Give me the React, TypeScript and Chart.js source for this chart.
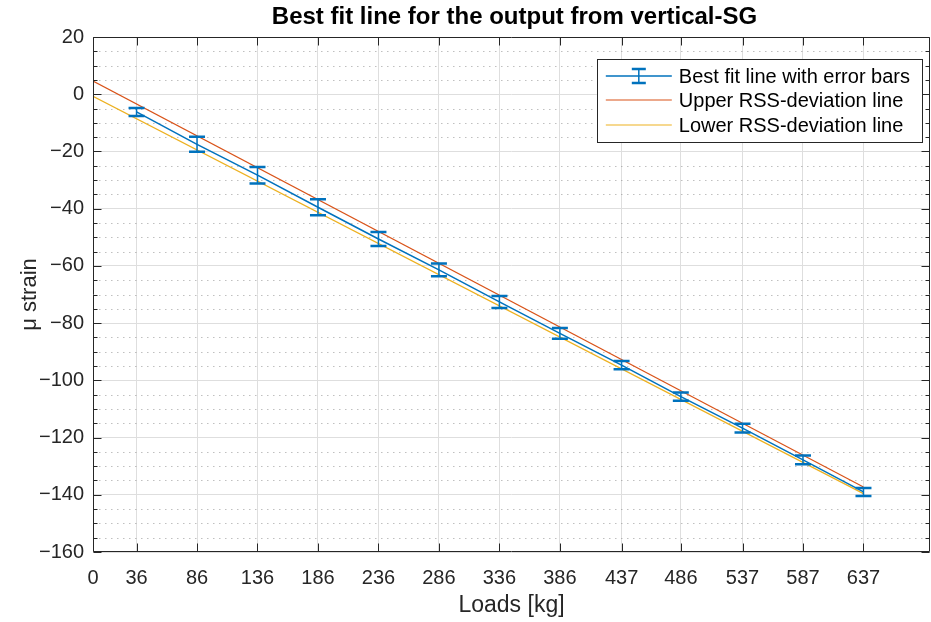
import React, { useEffect, useRef } from "react";
import { Chart, registerables } from "chart.js";

Chart.register(...registerables);

// ---- data ----
const loads = [36, 86, 136, 186, 236, 286, 336, 386, 437, 486, 537, 587, 637];
const bestFit = [-6.2, -17.5, -28.3, -39.5, -50.6, -61.4, -72.6, -83.6, -94.7, -105.7, -116.7, -127.8, -139.0];
const errHalf = [1.4, 2.6, 2.9, 2.8, 2.45, 2.2, 2.1, 1.9, 1.45, 1.45, 1.55, 1.55, 1.4];
const devLoads = [0, 637];
const upperDev = [4.6, -137.3];
const lowerDev = [-0.7, -139.6];
const xTickValues = [0, 36, 86, 136, 186, 236, 286, 336, 386, 437, 486, 537, 587, 637];
const yMin = -160;
const yMax = 20;
const yMajorStep = 20;
const yMinorStep = 5;
const xMax = 692;

const titleText = "Best fit line for the output from vertical-SG";
const xTitle = "Loads [kg]";
const yTitle = "\u03bc strain";
const legendLabels = ["Best fit line with error bars", "Upper RSS-deviation line", "Lower RSS-deviation line"];

const FONT = '"Liberation Sans", Arial, Helvetica, sans-serif';
const BLUE = "#0072BD";
const RED = "#D95319";
const YELLOW = "#EDB120";
const AXIS = "#262626";

const fmtNum = (v: number) => (v < 0 ? "\u2212" + Math.abs(v) : String(v));

const titlePlugin = {
  id: "customTitle",
  afterDraw(chart: any) {
    const { ctx, chartArea: a } = chart;
    ctx.save();
    ctx.font = `bold 24px ${FONT}`;
    ctx.fillStyle = "#000";
    ctx.textAlign = "center";
    ctx.textBaseline = "middle";
    ctx.fillText(titleText, (a.left + a.right) / 2 + 3, 17);
    ctx.restore();
  },
};

const minorGridPlugin = {
  id: "minorGrid",
  beforeDatasetsDraw(chart: any) {
    const { ctx, chartArea: a, scales } = chart;
    const y = scales.y;
    ctx.save();
    ctx.strokeStyle = "rgba(140,140,140,0.55)";
    ctx.lineWidth = 1;
    ctx.setLineDash([1.5, 4.5]);
    for (let v = yMin; v <= yMax; v += yMinorStep) {
      if (v % yMajorStep === 0) continue;
      const py = Math.round(y.getPixelForValue(v)) + 0.5;
      ctx.beginPath();
      ctx.moveTo(a.left, py);
      ctx.lineTo(a.right, py);
      ctx.stroke();
    }
    ctx.restore();
  },
};

const errorBarPlugin = {
  id: "errorBars",
  afterDatasetsDraw(chart: any) {
    const { ctx, scales } = chart;
    const x = scales.x;
    const y = scales.y;
    ctx.save();
    ctx.strokeStyle = BLUE;
    for (let i = 0; i < loads.length; i++) {
      const px = x.getPixelForValue(loads[i]);
      const top = y.getPixelForValue(bestFit[i] + errHalf[i]);
      const bot = y.getPixelForValue(bestFit[i] - errHalf[i]);
      ctx.lineWidth = 1.5;
      ctx.beginPath();
      ctx.moveTo(px, top);
      ctx.lineTo(px, bot);
      ctx.stroke();
      ctx.lineWidth = 2.5;
      ctx.beginPath();
      ctx.moveTo(px - 8, top);
      ctx.lineTo(px + 8, top);
      ctx.moveTo(px - 8, bot);
      ctx.lineTo(px + 8, bot);
      ctx.stroke();
    }
    ctx.restore();
  },
};

const boxPlugin = {
  id: "axesBox",
  afterDatasetsDraw(chart: any) {
    const { ctx, chartArea: a, scales } = chart;
    const x = scales.x;
    const y = scales.y;
    ctx.save();
    ctx.strokeStyle = AXIS;
    ctx.lineWidth = 1;
    const L = Math.round(a.left) + 0.5;
    const R = Math.round(a.right) - 0.5;
    const T = Math.round(a.top) + 0.5;
    const B = Math.round(a.bottom) - 0.5;
    ctx.beginPath();
    ctx.rect(L, T, R - L, B - T);
    ctx.stroke();
    ctx.beginPath();
    for (const v of xTickValues) {
      const px = Math.round(x.getPixelForValue(v)) + 0.5;
      ctx.moveTo(px, B);
      ctx.lineTo(px, B - 8);
      ctx.moveTo(px, T);
      ctx.lineTo(px, T + 8);
    }
    for (let v = yMin; v <= yMax; v += yMinorStep) {
      const py = Math.round(y.getPixelForValue(v)) + 0.5;
      const len = v % yMajorStep === 0 ? 8 : 4;
      ctx.moveTo(L, py);
      ctx.lineTo(L + len, py);
      ctx.moveTo(R, py);
      ctx.lineTo(R - len, py);
    }
    ctx.stroke();
    ctx.restore();
  },
};

const legendPlugin = {
  id: "customLegend",
  afterDraw(chart: any) {
    const { ctx, chartArea: a } = chart;
    ctx.save();
    ctx.font = `20px ${FONT}`;
    let maxW = 0;
    for (const t of legendLabels) maxW = Math.max(maxW, ctx.measureText(t).width);
    const padL = 9;
    const sampleW = 66;
    const gap = 7;
    const padR = 12;
    const boxW = padL + sampleW + gap + maxW + padR;
    const boxH = 83;
    const right = a.right - 8;
    const left = right - boxW;
    const top = a.top + 22;
    ctx.fillStyle = "#fff";
    ctx.fillRect(left, top, boxW, boxH);
    ctx.strokeStyle = AXIS;
    ctx.lineWidth = 1;
    ctx.strokeRect(Math.round(left) + 0.5, Math.round(top) + 0.5, Math.round(boxW), boxH);
    const colors = [BLUE, RED, YELLOW];
    const rowY = [top + 17, top + 41, top + 66];
    for (let i = 0; i < 3; i++) {
      const ry = rowY[i];
      ctx.strokeStyle = colors[i];
      ctx.lineWidth = i === 0 ? 1.5 : 1.2;
      ctx.beginPath();
      ctx.moveTo(left + padL, ry);
      ctx.lineTo(left + padL + sampleW, ry);
      ctx.stroke();
      if (i === 0) {
        const cx = left + padL + sampleW / 2;
        ctx.beginPath();
        ctx.moveTo(cx, ry - 7);
        ctx.lineTo(cx, ry + 7);
        ctx.stroke();
        ctx.lineWidth = 2.5;
        ctx.beginPath();
        ctx.moveTo(cx - 7, ry - 7);
        ctx.lineTo(cx + 7, ry - 7);
        ctx.moveTo(cx - 7, ry + 7);
        ctx.lineTo(cx + 7, ry + 7);
        ctx.stroke();
      }
      ctx.fillStyle = "#000";
      ctx.textAlign = "left";
      ctx.textBaseline = "middle";
      ctx.fillText(legendLabels[i], left + padL + sampleW + gap, ry + 1);
    }
    ctx.restore();
  },
};

const bgPlugin = {
  id: "bg",
  beforeDraw(chart: any) {
    const { ctx, width, height } = chart;
    ctx.save();
    ctx.fillStyle = "#fff";
    ctx.fillRect(0, 0, width, height);
    ctx.restore();
  },
};

export default function App() {
  const ref = useRef<HTMLCanvasElement>(null);
  useEffect(() => {
    if (!ref.current) return;
    Chart.defaults.font.family = FONT;
    const chart = new Chart(ref.current, {
      type: "line",
      data: {
        datasets: [
          {
            label: legendLabels[0],
            data: loads.map((v, i) => ({ x: v, y: bestFit[i] })),
            borderColor: BLUE,
            borderWidth: 1.5,
            pointRadius: 0,
            fill: false,
            tension: 0,
          },
          {
            label: legendLabels[1],
            data: devLoads.map((v, i) => ({ x: v, y: upperDev[i] })),
            borderColor: RED,
            borderWidth: 1.2,
            pointRadius: 0,
            fill: false,
            tension: 0,
          },
          {
            label: legendLabels[2],
            data: devLoads.map((v, i) => ({ x: v, y: lowerDev[i] })),
            borderColor: YELLOW,
            borderWidth: 1.2,
            pointRadius: 0,
            fill: false,
            tension: 0,
          },
        ],
      },
      options: {
        responsive: false,
        animation: false,
        devicePixelRatio: 1,
        layout: { padding: { left: 0, right: 1, top: 37, bottom: 0 } },
        plugins: {
          legend: { display: false },
          title: { display: false },
          tooltip: { enabled: false },
        },
        scales: {
          x: {
            type: "linear",
            min: 0,
            max: xMax,
            afterBuildTicks: (s: any) => {
              s.ticks = xTickValues.map((v) => ({ value: v }));
            },
            afterFit: (s: any) => {
              s.height = 70;
            },
            ticks: {
              autoSkip: false,
              maxRotation: 0,
              minRotation: 0,
              padding: 14,
              color: AXIS,
              font: { size: 20, family: FONT },
              callback: (v: any) => fmtNum(Number(v)),
            },
            grid: { color: "#dedede", lineWidth: 1, drawTicks: false },
            border: { display: false },
            title: {
              display: true,
              text: xTitle,
              color: AXIS,
              font: { size: 23, family: FONT },
              padding: { top: 0, bottom: 3 },
            },
          },
          y: {
            type: "linear",
            min: yMin,
            max: yMax,
            ticks: {
              stepSize: yMajorStep,
              padding: 9,
              color: AXIS,
              font: { size: 20, family: FONT },
              callback: (v: any) => fmtNum(Number(v)),
            },
            afterFit: (s: any) => {
              s.width = 93;
            },
            grid: { color: "#dedede", lineWidth: 1, drawTicks: false },
            border: { display: false },
            title: {
              display: true,
              text: yTitle,
              color: AXIS,
              font: { size: 22, family: FONT },
              padding: { top: 17, bottom: 0 },
            },
          },
        },
      },
      plugins: [bgPlugin, titlePlugin, minorGridPlugin, errorBarPlugin, boxPlugin, legendPlugin],
    } as any);
    return () => chart.destroy();
  }, []);
  return (
    <div style={{ position: "fixed", left: 0, top: 0, width: 931, height: 622, background: "#fff" }}>
      <canvas ref={ref} width={931} height={622} style={{ display: "block", width: 931, height: 622 }} />
    </div>
  );
}
